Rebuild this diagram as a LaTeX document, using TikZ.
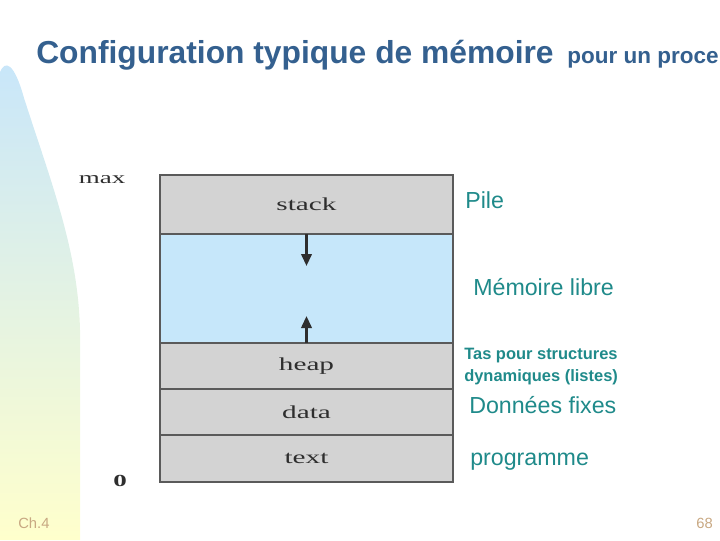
\documentclass[tikz,border=0pt]{standalone}
\usepackage{fontspec}
\setmainfont{Liberation Sans}
\newfontfamily\figfont{Liberation Serif}
\usetikzlibrary{arrows.meta,positioning}
\definecolor{Title}{HTML}{34608F}
\definecolor{Teal}{HTML}{1F8A8A}
\definecolor{Tan}{HTML}{C8A882}
\definecolor{Seg}{HTML}{D3D3D3}
\definecolor{Free}{HTML}{C6E7FA}
\definecolor{Edge}{HTML}{5A5A5A}
\definecolor{Ink}{HTML}{2E2E2E}
\definecolor{SideTop}{HTML}{C8E6FA}
\definecolor{SideBot}{HTML}{FFFFCC}
\newcommand{\figtxt}[1]{\scalebox{1.6}[1]{\figfont #1}}
\tikzset{seg/.style={draw=Edge,line width=1pt,outer sep=0pt,fill=Seg,minimum width=293*0.025cm,inner sep=0pt,font=\fontsize{13}{15}\selectfont,text=Ink},note/.style={anchor=base west,inner sep=0pt,text=Teal,font=\fontsize{16.5}{19}\selectfont},growarrow/.style={-{Triangle[length=3mm,width=2.6mm]},line width=1.8pt,draw=Ink},foot/.style={inner sep=0pt,text=Tan,font=\fontsize{10.5}{12}\selectfont}}

\begin{document}
\begin{tikzpicture}[x=0.025cm,y=-0.025cm]
\useasboundingbox (0,0) rectangle (720,540);
\clip (0,0) rectangle (720,540);
% left band
\shade[top color=SideTop,bottom color=SideBot] (0,540) -- (0,72) .. controls (5,60) and (14,62) .. (24,98) .. controls (52,185) and (78,250) .. (80,330) -- (80,540) -- cycle;
\node[anchor=base west,inner sep=0pt,text=Title,font=\fontsize{22.6}{26}\selectfont\bfseries] (title) at (36,63) {Configuration typique de mémoire};
\node[anchor=base west,inner sep=0pt,text=Title,font=\fontsize{16}{19}\selectfont\bfseries] (sub) at (567,63) {pour un proce};
% memory layout
\node[seg,minimum height=59*0.025cm,anchor=north west] (stack) at (160,175) {\figtxt{stack}};
\node[seg,fill=Free,minimum height=109*0.025cm,below=0pt of stack] (free) {};
\node[seg,minimum height=46*0.025cm,below=0pt of free] (heap) {\figtxt{heap}};
\node[seg,minimum height=46*0.025cm,below=0pt of heap] (data) {\figtxt{data}};
\node[seg,minimum height=47*0.025cm,below=0pt of data] (text) {\figtxt{text}};
\node[text=Ink,font=\fontsize{12}{14}\selectfont] (max) at (102,180) {\figtxt{max}};
\node[text=Ink,font=\fontsize{12}{14}\selectfont\bfseries] (zero) at (120,481) {\figtxt{0}};
\coordinate (sdown) at (306.5,266);
\coordinate (hup) at (306.5,316);
\draw[growarrow] (free.north) -- (sdown);
\draw[growarrow] (free.south) -- (hup);
% labels on the right
\node[note] (pile) at (465,208) {Pile};
\node[note] (libre) at (473,295) {Mémoire libre};
\node[note,anchor=north west,align=left,font=\fontsize{11.7}{15.6}\selectfont\bfseries] (tas) at (464,348) {Tas pour structures\\dynamiques (listes)};
\node[note] (fixes) at (469,413) {Données fixes};
\node[note] (prog) at (470,465) {programme};
\node[foot,anchor=base west] (chap) at (18,528) {Ch.4};
\node[foot,anchor=base east] (page) at (713,528) {68};
\end{tikzpicture}
\end{document}
